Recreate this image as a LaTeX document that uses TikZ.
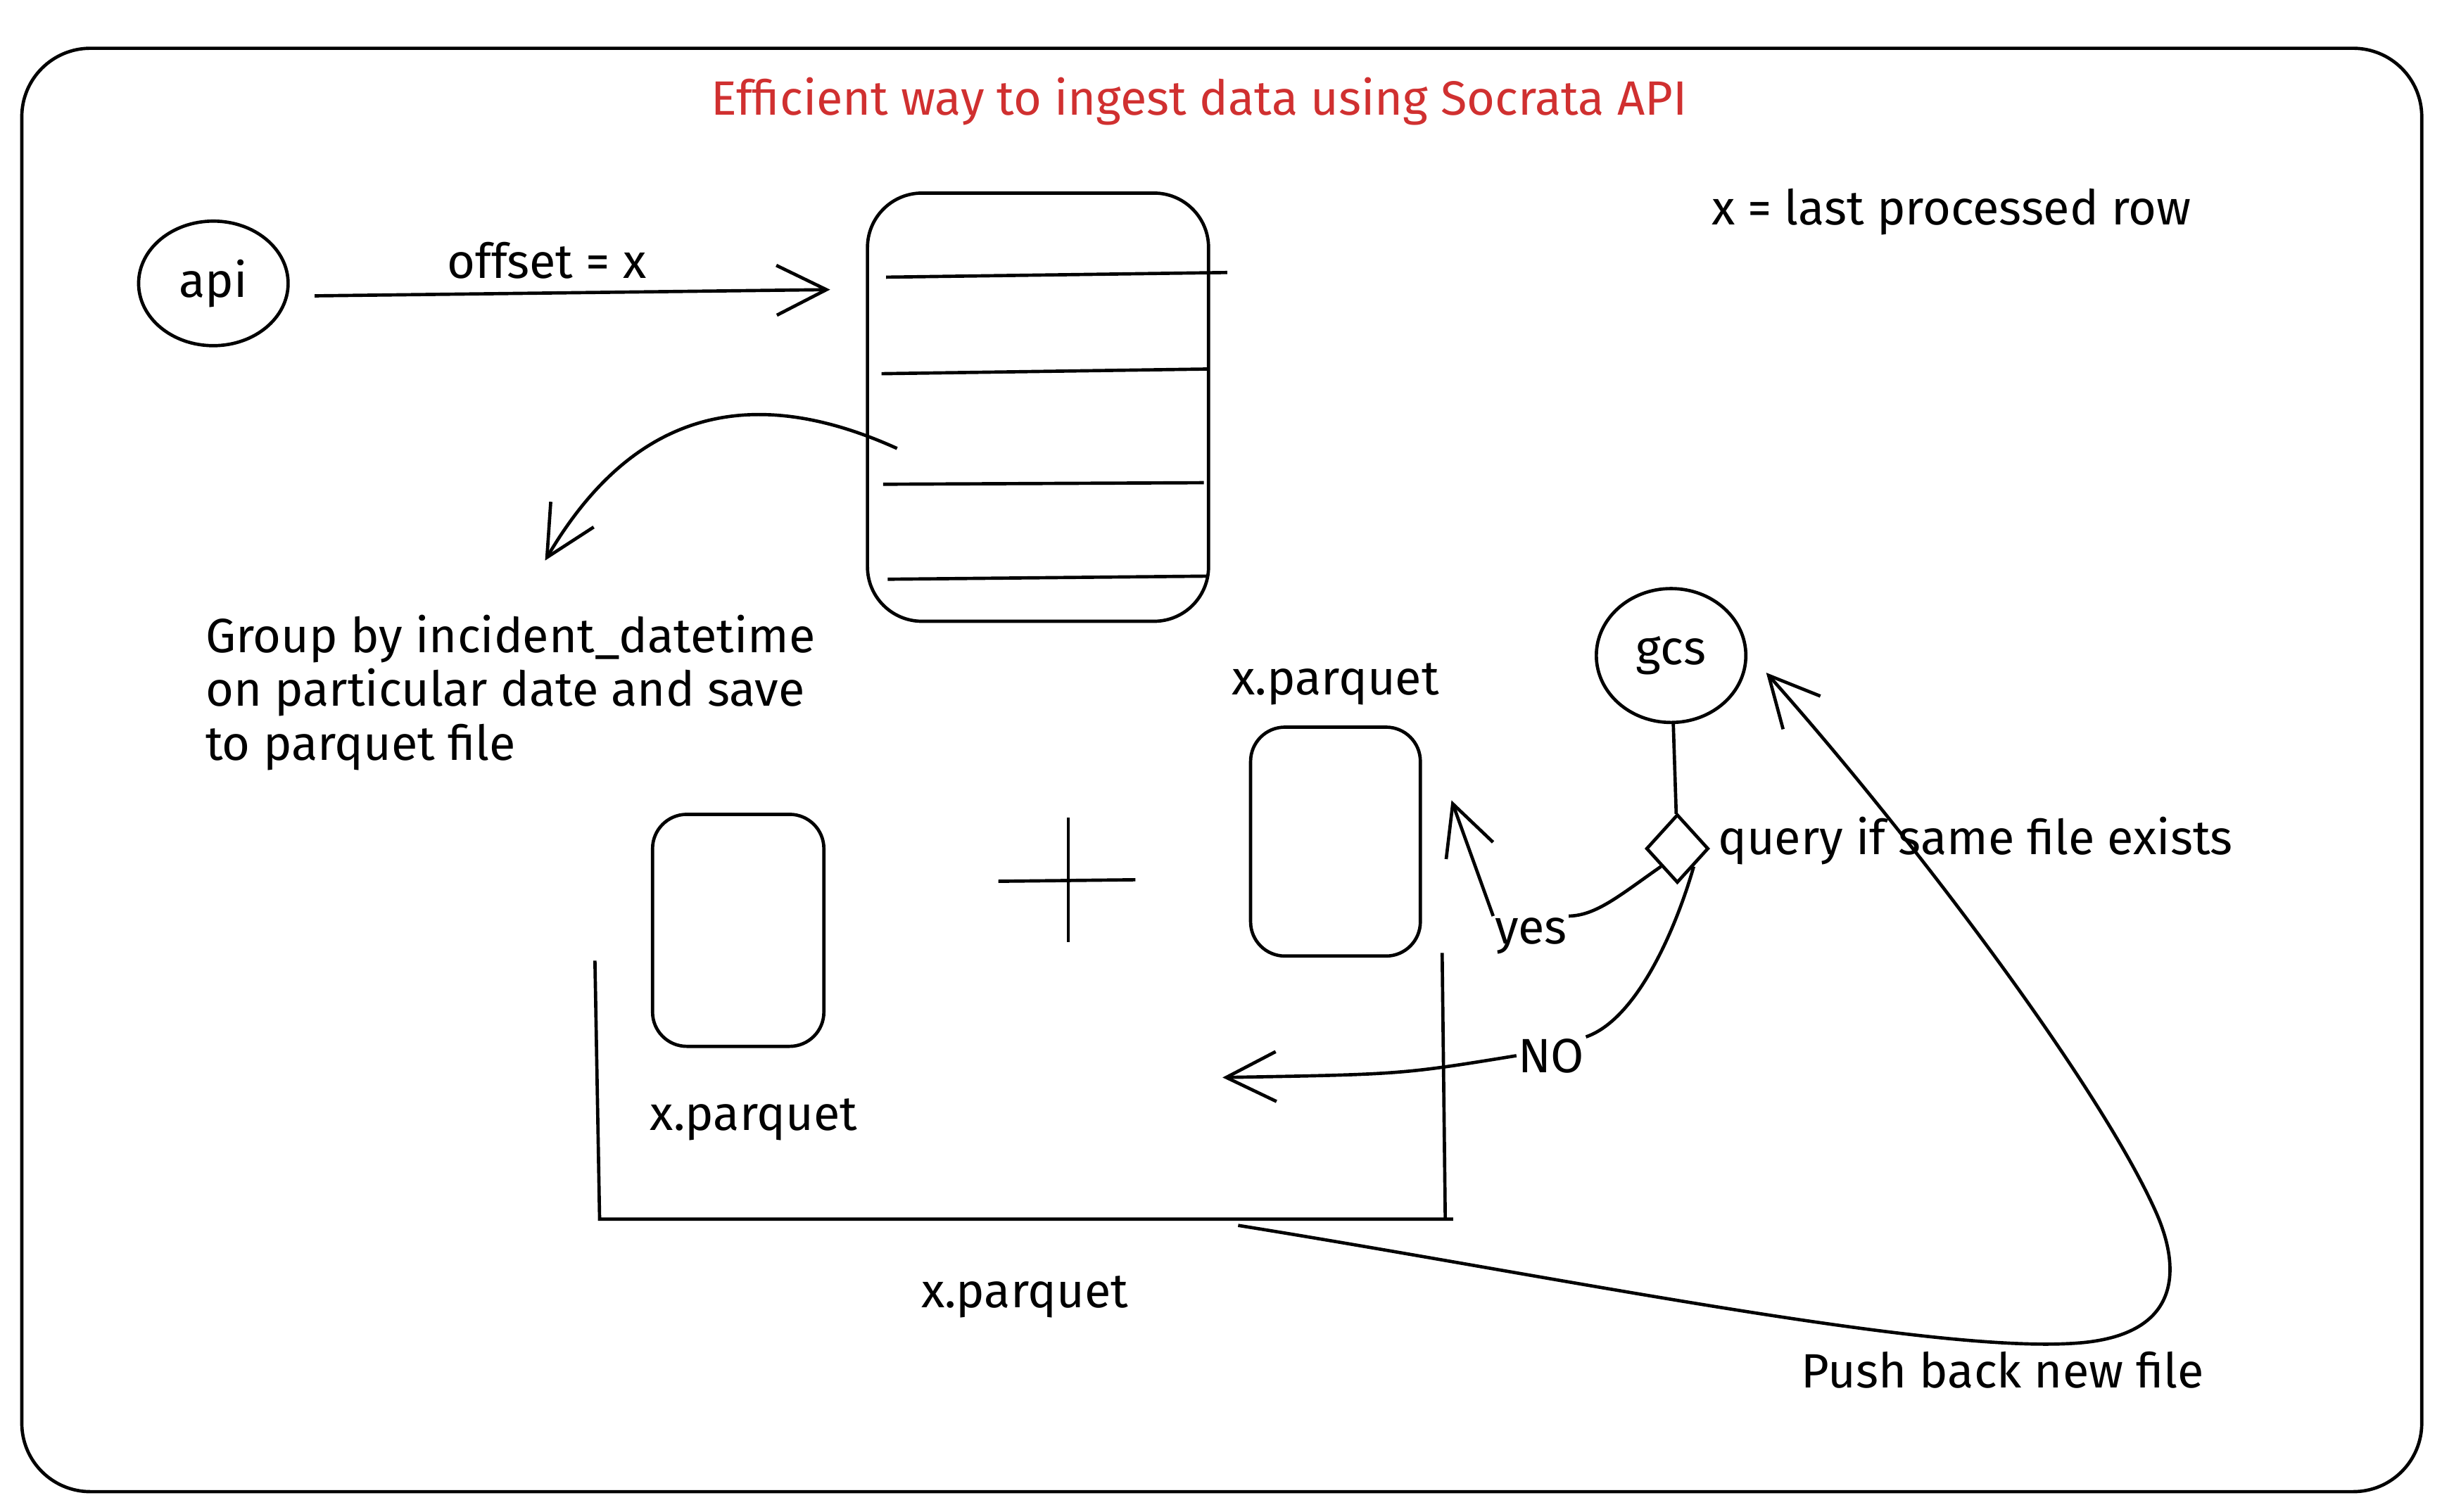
\documentclass[tikz,border=0pt]{standalone}
\usepackage{fontspec}
\setmainfont{Fira Sans}
\usepackage{tikz}
\usetikzlibrary{arrows.meta,positioning,shapes.geometric}
\definecolor{TitleRed}{RGB}{208,48,48}

\begin{document}
\begin{tikzpicture}[x=0.25mm, y=-0.25mm, line width=1.5pt,
      txt/.style={font=\fontsize{22}{24.5}\selectfont, inner sep=0pt},
      arr/.style={-{Straight Barb[length=8mm, width=8mm]}},
      rbox/.style={draw, rounded corners=#1, inner sep=0pt}]
      \useasboundingbox (0,0) rectangle (1568,971);
      \draw[rounded corners=11mm] (14,31) rectangle (1555,958);
      \node[txt, text=TitleRed] (title) at (770,65) {Efficient way to ingest data using Socrata API};
      \node[txt, anchor=west] (lastrow) at (1098,136) {x = last processed row};

      \node[txt, draw, ellipse, minimum width=24mm, minimum height=20mm] (api) at (137,182) {api};
      \node[rbox=8.75mm, minimum width=54.75mm, minimum height=68.75mm] (tbl) at (666.5,261.5) {};
      \draw (569,178) -- (788,175);
      \draw (566,240) -- (775,237);
      \draw (567,311) -- (773,310);
      \draw (570,372) -- (776,370);
      \coordinate (tblin) at (533,186);
      \draw[arr] ([xshift=4mm, yshift=-2mm]api.east) -- (tblin) node[txt, pos=0.45, above=2mm] {offset = x};

      \coordinate (grpstart) at (576,288);
      \coordinate (grpend) at (350,360);
      \draw[arr] (grpstart) .. controls (470,240) and (400,275) .. (grpend);
      \node[txt, anchor=north west, align=left] (grp) at (131,394) {Group by incident\_datetime\\on particular date and save\\to parquet file};

      \node[txt, draw, ellipse, minimum width=24mm, minimum height=21.5mm] (gcs) at (1073,421) {gcs};
      \node[draw, diamond, minimum width=10mm, minimum height=11mm, inner sep=0pt] (dia) at (1077,545) {};
      \draw (gcs) -- (dia);
      \node[txt, anchor=west] (query) at (1102,540) {query if same file exists};

      \node[rbox=5.5mm, minimum width=27.25mm, minimum height=36.75mm] (rsm) at (857.5,540.5) {};
      \node[txt, above=3mm of rsm] (rsmlbl) {x.parquet};
      \node[rbox=5.5mm, minimum width=27.5mm, minimum height=37.25mm] (lsm) at (474,597.5) {};
      \node[txt] (lsmlbl) at (484,719) {x.parquet};
      \draw (641,566) -- (729,565);
      \draw (686,525) -- (686,605);
      \draw (382,617) -- (385,783) -- (933,783);
      \draw (926,612) -- (928,783);
      \node[txt] (binlbl) at (658,833) {x.parquet};

      \node[txt] (yes) at (983,601) {yes};
      \coordinate (yesend) at (932,514);
      \draw (dia.south west) .. controls (1040,575) and (1025,588) .. (yes.north east);
      \draw[arr] (yes.north west) -- (yesend);
      \node[txt] (no) at (996,678) {NO};
      \coordinate (noend) at (785,692);
      \draw (dia.south east) .. controls (1075,600) and (1050,655) .. (no.north east);
      \draw[arr] (no.west) .. controls (900,690) .. (noend);

      \coordinate (pbstart) at (795,787);
      \draw[arr] (pbstart) .. controls (1000,820) and (1250,872) .. (1340,862) .. controls (1400,855) and (1400,815) .. (1385,780) .. controls (1350,700) and (1230,540) .. ([xshift=3mm, yshift=-2.75mm]gcs.east);
      \node[txt] (push) at (1286,880) {Push back new file};
    \end{tikzpicture}
\end{document}
